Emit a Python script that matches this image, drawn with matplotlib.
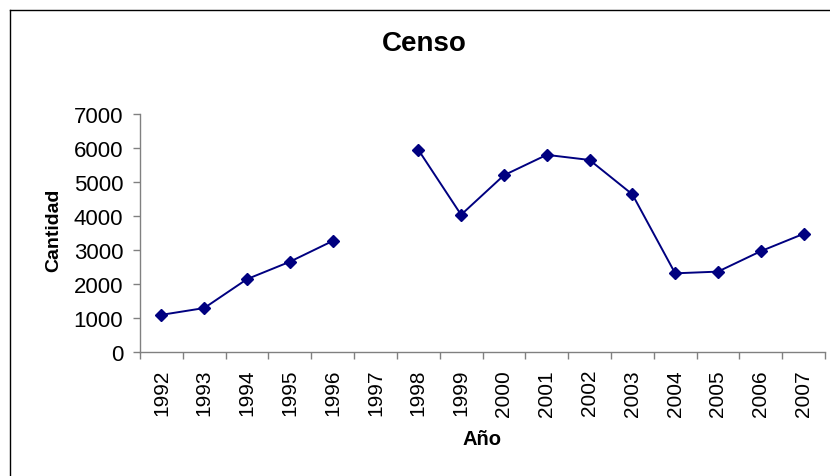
import numpy as np
import matplotlib
matplotlib.use("Agg")
import matplotlib.pyplot as plt
from matplotlib.lines import Line2D
from matplotlib.ticker import FixedLocator

plt.rcParams['font.family'] = ['Liberation Sans', 'DejaVu Sans']

years = ['1992', '1993', '1994', '1995', '1996', '1997', '1998', '1999',
         '2000', '2001', '2002', '2003', '2004', '2005', '2006', '2007']
cantidad = [1100, 1300, 2150, 2660, 3270, np.nan, 5950, 4040,
            5200, 5800, 5650, 4640, 2320, 2370, 2970, 3480]
yticks = [0, 1000, 2000, 3000, 4000, 5000, 6000, 7000]

W, H = 830, 477
fig = plt.figure(figsize=(W / 100, H / 100), dpi=100)
ax = fig.add_axes([140 / W, 1 - 353.3 / H, (825 - 140) / W, (353.3 - 115) / H])

x = np.arange(len(years))
ax.plot(x, cantidad, color='#000080', lw=1.4, marker='D', markersize=6.5,
        markerfacecolor='#000080', markeredgecolor='#000080')

ax.set_xlim(-0.5, len(years) - 0.5)
ax.set_ylim(0, 7000)
ax.set_yticks(yticks)
ax.set_yticklabels([str(v) for v in yticks])
ax.set_xticks(x)
ax.set_xticklabels(years, rotation=90)
ax.xaxis.set_minor_locator(FixedLocator(np.arange(len(years) + 1) - 0.5))

gray = '#808080'
for s in ['top', 'right']:
    ax.spines[s].set_visible(False)
for s in ['left', 'bottom']:
    ax.spines[s].set_color(gray)
    ax.spines[s].set_linewidth(1.0)

ax.tick_params(axis='y', which='major', direction='out', length=5, width=1,
               color=gray, labelsize=16, pad=7, labelcolor='black')
ax.tick_params(axis='x', which='major', length=0, pad=12, labelsize=15,
               labelcolor='black')
ax.tick_params(axis='x', which='minor', direction='out', length=5, width=1,
               color=gray)

fig.text(424 / W, 1 - 44 / H, 'Censo', ha='center', va='center',
         fontsize=20, fontweight='bold')
fig.text(54 / W, 1 - 230 / H, 'Cantidad', ha='center', va='center',
         rotation=90, fontsize=14, fontweight='bold')
fig.text(482 / W, 1 - 440 / H, 'Año', ha='center', va='center',
         fontsize=14.5, fontweight='bold')

fig.add_artist(Line2D([9.5 / W, 1.0], [1 - 10.5 / H, 1 - 10.5 / H],
                      transform=fig.transFigure, color='black', lw=1.0))
fig.add_artist(Line2D([9.5 / W, 9.5 / W], [1 - 10.5 / H, 0.0],
                      transform=fig.transFigure, color='black', lw=1.0))

fig.savefig('out.png', dpi=100)
